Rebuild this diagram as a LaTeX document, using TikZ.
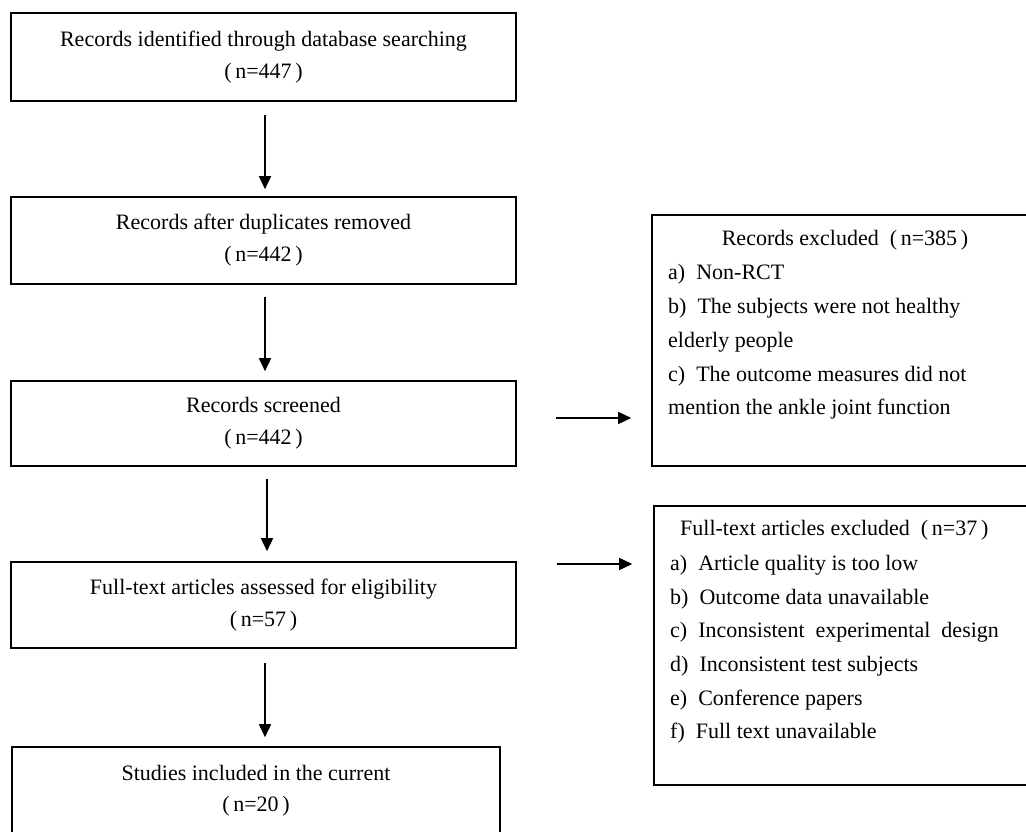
\documentclass[tikz,border=0pt]{standalone}
\usepackage{fontspec}
\setmainfont{Liberation Serif}
\usetikzlibrary{arrows.meta}
\begin{document}
\begin{tikzpicture}[x=1pt,y=1pt,
  box/.style={draw,line width=1.6pt,rectangle,inner sep=0pt,align=center,font=\fontsize{22}{32}\selectfont},
  txt/.style={inner sep=0pt,font=\fontsize{22}{32}\selectfont},
  arr/.style={line width=1.6pt,-{Triangle[length=13pt,width=12pt]}}]
\clip (0,0) rectangle (1026,831);
\fill[white] (0,0) rectangle (1026,831);
% left column
\node[box,minimum width=505pt,minimum height=88pt] (b1) at (263.5,774) {Records identified through database searching\\(\,n=447\,)};
\node[box,minimum width=505pt,minimum height=87pt] (b2) at (263.5,590.5) {Records after duplicates removed\\(\,n=442\,)};
\node[box,minimum width=505pt,minimum height=85pt] (b3) at (263.5,407.5) {Records screened\\(\,n=442\,)};
\node[box,minimum width=505pt,minimum height=86pt] (b4) at (263.5,226) {Full-text articles assessed for eligibility\\(\,n=57\,)};
\node[box,minimum width=488pt,minimum height=90pt] (b5) at (256,39) {};
\node[txt] (t5a) at (256,58) {Studies included in the current};
\node[txt] (t5b) at (256,25) {(\,n=20\,)};
% right boxes
\node[box,minimum width=388pt,minimum height=251pt] (eA) at (846,490.5) {};
\node[txt] (eAt) at (845,591) {Records excluded\ \ (\,n=385\,)};
\node[txt,anchor=west] (eA1) at (668,557) {a)\ \ Non-RCT};
\node[txt,anchor=west] (eA2) at (668,523) {b)\ \ The subjects were not healthy};
\node[txt,anchor=west] (eA3) at (668,489) {elderly people};
\node[txt,anchor=west] (eA4) at (668,455) {c)\ \ The outcome measures did not};
\node[txt,anchor=west] (eA5) at (668,422) {mention the ankle joint function};
\node[box,minimum width=386pt,minimum height=279pt] (eB) at (847,185.5) {};
\node[txt,anchor=west] (eBt) at (680,301) {Full-text articles excluded\ \ (\,n=37\,)};
\node[txt,anchor=west] (eB1) at (670,266) {a)\ \ Article quality is too low};
\node[txt,anchor=west] (eB2) at (670,232) {b)\ \ Outcome data unavailable};
\node[txt,anchor=west] (eB3) at (670,199) {c)\ \ Inconsistent\ \ experimental\ \ design};
\node[txt,anchor=west] (eB4) at (670,165) {d)\ \ Inconsistent test subjects};
\node[txt,anchor=west] (eB5) at (670,131) {e)\ \ Conference papers};
\node[txt,anchor=west] (eB6) at (670,98) {f)\ \ Full text unavailable};
% arrows
\draw[arr,shorten <=13pt,shorten >=7pt] ([xshift=1.5pt]b1.south) -- ([xshift=1.5pt]b1.south |- b2.north);
\draw[arr,shorten <=12pt,shorten >=9pt] ([xshift=1.5pt]b2.south) -- ([xshift=1.5pt]b2.south |- b3.north);
\draw[arr,shorten <=12pt,shorten >=10pt] ([xshift=3.5pt]b3.south) -- ([xshift=3.5pt]b3.south |- b4.north);
\draw[arr,shorten <=14pt,shorten >=9pt] ([xshift=1.5pt]b4.south) -- ([xshift=1.5pt]b4.south |- b5.north);
\draw[arr,shorten <=39pt,shorten >=20pt] ([yshift=5.5pt]b3.east) -- ([yshift=5.5pt]b3.east -| eA.west);
\draw[arr,shorten <=40pt,shorten >=21pt] ([yshift=41pt]b4.east) -- ([yshift=41pt]b4.east -| eB.west);
\end{tikzpicture}
\end{document}
